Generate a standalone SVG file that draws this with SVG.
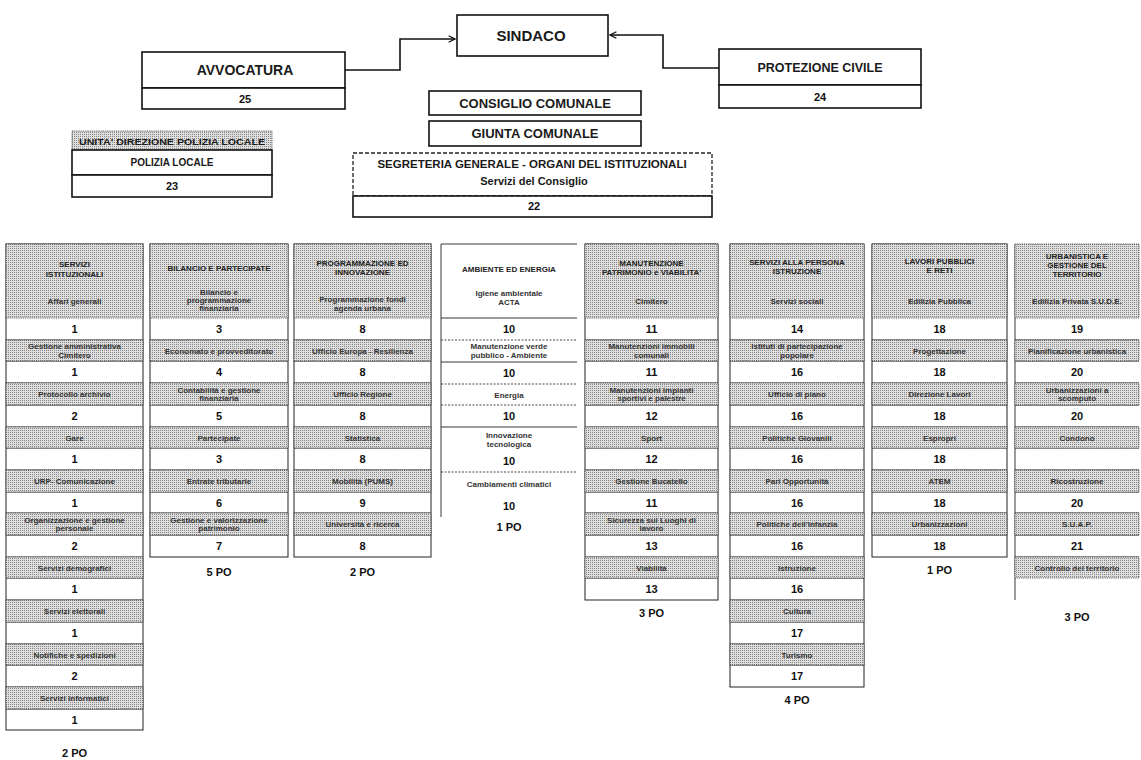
<svg xmlns="http://www.w3.org/2000/svg" width="1141" height="760" viewBox="0 0 1141 760">
<defs>
<pattern id="ht" width="2" height="2" patternUnits="userSpaceOnUse"><rect width="2" height="2" fill="#dedede"/><rect width="1" height="1" fill="#888"/></pattern>
<marker id="ah" viewBox="0 0 10 10" refX="9" refY="5" markerWidth="8" markerHeight="8" orient="auto" markerUnits="userSpaceOnUse"><path d="M1,1 L9,5 L1,9" fill="none" stroke="#111" stroke-width="1.6"/></marker>
<style>
text{font-family:"Liberation Sans",Arial,sans-serif;font-weight:bold;text-anchor:middle;fill:#1a1a1a}
.bx{fill:#fff;stroke:#111;stroke-width:1.6}
.bxd{fill:#fff;stroke:#222;stroke-width:1.3;stroke-dasharray:4 2}
.g{fill:url(#ht);stroke:#333;stroke-width:.8;stroke-dasharray:1.2 1}
.col{fill:#fff;stroke:#222;stroke-width:1}
.rl{fill:none;stroke:#222;stroke-width:.9}
.dl{fill:none;stroke:#333;stroke-width:.9;stroke-dasharray:2 1.5}
.it{font-size:8px;fill:#333}
.hd{font-size:8px;fill:#222}
.n{font-size:11px;fill:#111}
.po{font-size:11px;fill:#111}
.cn{fill:none;stroke:#111;stroke-width:1.6}
</style>
</defs>
<rect width="1141" height="760" fill="#fff"/>

<g id="connectors">
<path class="cn" d="M345,70 H400 V39 H455" marker-end="url(#ah)"/>
<path class="cn" d="M719,68 H663 V35 H610" marker-end="url(#ah)"/>
</g>

<g id="sindaco">
<rect class="bx" x="457" y="15" width="151" height="41" stroke-width="2"/>
<text x="531" y="41" font-size="15">SINDACO</text>
</g>
<g id="avvocatura">
<rect class="bx" x="142" y="52" width="203" height="36"/>
<rect class="bx" x="142" y="88" width="203" height="21" stroke-width="1.2"/>
<text x="245" y="75" font-size="14">AVVOCATURA</text>
<text class="n" x="245" y="103">25</text>
</g>
<g id="protezione-civile">
<rect class="bx" x="719" y="49" width="202" height="36"/>
<rect class="bx" x="719" y="85" width="202" height="23" stroke-width="1.2"/>
<text x="820" y="72" font-size="12.5">PROTEZIONE CIVILE</text>
<text class="n" x="820" y="101">24</text>
</g>
<g id="consiglio-comunale">
<rect class="bx" x="429" y="91" width="212" height="24"/>
<text x="535" y="108" font-size="13">CONSIGLIO COMUNALE</text>
</g>
<g id="giunta-comunale">
<rect class="bx" x="429" y="121" width="212" height="25"/>
<text x="535" y="138" font-size="13">GIUNTA COMUNALE</text>
</g>
<g id="polizia-locale">
<rect class="g" x="72" y="131" width="200" height="19" stroke-dasharray="none" stroke="#111" stroke-width="1.2"/>
<rect class="bx" x="72" y="150" width="200" height="25" stroke-width="1.2"/>
<rect class="bx" x="72" y="175" width="200" height="22" stroke-width="1.2"/>
<text x="172" y="144.5" font-size="9" textLength="186" lengthAdjust="spacingAndGlyphs">UNITA' DIREZIONE POLIZIA LOCALE</text>
<text x="172" y="166" font-size="10">POLIZIA LOCALE</text>
<text class="n" x="172" y="190">23</text>
</g>
<g id="segreteria-generale">
<rect class="bxd" x="353" y="153" width="359" height="43"/>
<rect class="bx" x="353" y="196" width="359" height="21" stroke-width="1.1"/>
<text x="532" y="168" font-size="11.5">SEGRETERIA GENERALE - ORGANI DEL ISTITUZIONALI</text>
<text x="534" y="185" font-size="11">Servizi del Consiglio</text>
<text class="n" x="534" y="210">22</text>
</g>

<g id="col-servizi-istituzionali">
<rect class="col" x="6" y="244" width="137" height="486"/>
<path class="rl" d="M6,340H143M6,361H143M6,383H143M6,405H143M6,427H143M6,448H143M6,470H143M6,492H143M6,513H143M6,535H143M6,557H143M6,578H143M6,600H143M6,622H143M6,644H143M6,665H143M6,687H143M6,709H143"/>
<rect class="g" x="6" y="244" width="137" height="74"/>
<rect class="g" x="6" y="340" width="137" height="21"/>
<rect class="g" x="6" y="383" width="137" height="22"/>
<rect class="g" x="6" y="427" width="137" height="21"/>
<rect class="g" x="6" y="470" width="137" height="22"/>
<rect class="g" x="6" y="513" width="137" height="22"/>
<rect class="g" x="6" y="557" width="137" height="21"/>
<rect class="g" x="6" y="600" width="137" height="22"/>
<rect class="g" x="6" y="644" width="137" height="21"/>
<rect class="g" x="6" y="687" width="137" height="22"/>
<text class="hd" x="74.5" y="267">SERVIZI</text>
<text class="hd" x="74.5" y="277">ISTITUZIONALI</text>
<text class="it" x="74.5" y="304">Affari generali</text>
<text class="n" x="74.5" y="333">1</text>
<text class="it" x="74.5" y="349">Gestione amministrativa</text>
<text class="it" x="74.5" y="357.5">Cimitero</text>
<text class="n" x="74.5" y="376">1</text>
<text class="it" x="74.5" y="397">Protocollo archivio</text>
<text class="n" x="74.5" y="420">2</text>
<text class="it" x="74.5" y="440.5">Gare</text>
<text class="n" x="74.5" y="463">1</text>
<text class="it" x="74.5" y="484">URP- Comunicazione</text>
<text class="n" x="74.5" y="506.5">1</text>
<text class="it" x="74.5" y="522.5">Organizzazione e gestione</text>
<text class="it" x="74.5" y="531">personale</text>
<text class="n" x="74.5" y="550">2</text>
<text class="it" x="74.5" y="570.5">Servizi demografici</text>
<text class="n" x="74.5" y="593">1</text>
<text class="it" x="74.5" y="614">Servizi elettorali</text>
<text class="n" x="74.5" y="637">1</text>
<text class="it" x="74.5" y="657.5">Notifiche e spedizioni</text>
<text class="n" x="74.5" y="680">2</text>
<text class="it" x="74.5" y="701">Servizi informatici</text>
<text class="n" x="74.5" y="723.5">1</text>
<text class="po" x="74.5" y="757">2 PO</text>
</g>

<g id="col-bilancio">
<rect class="col" x="150" y="244" width="138" height="313"/>
<path class="rl" d="M150,340H288M150,361H288M150,383H288M150,405H288M150,427H288M150,448H288M150,470H288M150,492H288M150,513H288M150,535H288"/>
<rect class="g" x="150" y="244" width="138" height="74"/>
<rect class="g" x="150" y="340" width="138" height="21"/>
<rect class="g" x="150" y="383" width="138" height="22"/>
<rect class="g" x="150" y="427" width="138" height="21"/>
<rect class="g" x="150" y="470" width="138" height="22"/>
<rect class="g" x="150" y="513" width="138" height="22"/>
<text class="hd" x="219" y="271">BILANCIO E PARTECIPATE</text>
<text class="it" x="219" y="295">Bilancio e</text>
<text class="it" x="219" y="303">programmazione</text>
<text class="it" x="219" y="311">finanziaria</text>
<text class="n" x="219" y="333">3</text>
<text class="it" x="219" y="353.5">Economato e provveditorato</text>
<text class="n" x="219" y="376">4</text>
<text class="it" x="219" y="392.5">Contabilità e gestione</text>
<text class="it" x="219" y="401">finanziaria</text>
<text class="n" x="219" y="420">5</text>
<text class="it" x="219" y="440.5">Partecipate</text>
<text class="n" x="219" y="463">3</text>
<text class="it" x="219" y="484">Entrate tributarie</text>
<text class="n" x="219" y="506.5">6</text>
<text class="it" x="219" y="522.5">Gestione e valorizzazione</text>
<text class="it" x="219" y="531">patrimonio</text>
<text class="n" x="219" y="550">7</text>
<text class="po" x="219" y="576">5 PO</text>
</g>

<g id="col-programmazione">
<rect class="col" x="294" y="244" width="137" height="313"/>
<path class="rl" d="M294,340H431M294,361H431M294,383H431M294,405H431M294,427H431M294,448H431M294,470H431M294,492H431M294,513H431M294,535H431"/>
<rect class="g" x="294" y="244" width="137" height="74"/>
<rect class="g" x="294" y="340" width="137" height="21"/>
<rect class="g" x="294" y="383" width="137" height="22"/>
<rect class="g" x="294" y="427" width="137" height="21"/>
<rect class="g" x="294" y="470" width="137" height="22"/>
<rect class="g" x="294" y="513" width="137" height="22"/>
<text class="hd" x="362.5" y="266">PROGRAMMAZIONE ED</text>
<text class="hd" x="362.5" y="275">INNOVAZIONE</text>
<text class="it" x="362.5" y="302">Programmazione fondi</text>
<text class="it" x="362.5" y="311">agenda urbana</text>
<text class="n" x="362.5" y="333">8</text>
<text class="it" x="362.5" y="353.5">Ufficio Europa - Resilienza</text>
<text class="n" x="362.5" y="376">8</text>
<text class="it" x="362.5" y="397">Ufficio Regione</text>
<text class="n" x="362.5" y="420">8</text>
<text class="it" x="362.5" y="440.5">Statistica</text>
<text class="n" x="362.5" y="463">8</text>
<text class="it" x="362.5" y="484">Mobilità (PUMS)</text>
<text class="n" x="362.5" y="506.5">9</text>
<text class="it" x="362.5" y="527">Università e ricerca</text>
<text class="n" x="362.5" y="550">8</text>
<text class="po" x="362.5" y="576">2 PO</text>
</g>

<g id="col-ambiente">
<path class="rl" d="M577,244H441V517"/>
<path class="rl" d="M441,318H577M441,362H577M441,427H577" stroke-width="1.2"/>
<path class="dl" d="M441,340H577M441,384H577M441,405H577M441,472H577"/>
<text class="hd" x="509" y="272">AMBIENTE ED ENERGIA</text>
<text class="it" x="509" y="296">Igiene ambientale</text>
<text class="it" x="509" y="305">ACTA</text>
<text class="n" x="509" y="333">10</text>
<text class="it" x="509" y="349">Manutenzione verde</text>
<text class="it" x="509" y="358">pubblico - Ambiente</text>
<text class="n" x="509" y="377">10</text>
<text class="it" x="509" y="398">Energia</text>
<text class="n" x="509" y="420">10</text>
<text class="it" x="509" y="438">Innovazione</text>
<text class="it" x="509" y="447">tecnologica</text>
<text class="n" x="509" y="465">10</text>
<text class="it" x="509" y="487">Cambiamenti climatici</text>
<text class="n" x="509" y="510">10</text>
<text class="po" x="509" y="531">1 PO</text>
</g>

<g id="col-manutenzione">
<rect class="col" x="585" y="244" width="133" height="356"/>
<path class="rl" d="M585,340H718M585,361H718M585,383H718M585,405H718M585,427H718M585,448H718M585,470H718M585,492H718M585,513H718M585,535H718M585,557H718M585,578H718"/>
<rect class="g" x="585" y="244" width="133" height="74"/>
<rect class="g" x="585" y="340" width="133" height="21"/>
<rect class="g" x="585" y="383" width="133" height="22"/>
<rect class="g" x="585" y="427" width="133" height="21"/>
<rect class="g" x="585" y="470" width="133" height="22"/>
<rect class="g" x="585" y="513" width="133" height="22"/>
<rect class="g" x="585" y="557" width="133" height="21"/>
<text class="hd" x="651.5" y="266">MANUTENZIONE</text>
<text class="hd" x="651.5" y="275">PATRIMONIO e VIABILITA'</text>
<text class="it" x="651.5" y="304">Cimitero</text>
<text class="n" x="651.5" y="333">11</text>
<text class="it" x="651.5" y="349">Manutenzioni immobili</text>
<text class="it" x="651.5" y="357.5">comunali</text>
<text class="n" x="651.5" y="376">11</text>
<text class="it" x="651.5" y="392.5">Manutenzioni impianti</text>
<text class="it" x="651.5" y="401">sportivi e palestre</text>
<text class="n" x="651.5" y="420">12</text>
<text class="it" x="651.5" y="440.5">Sport</text>
<text class="n" x="651.5" y="463">12</text>
<text class="it" x="651.5" y="484">Gestione Bucatello</text>
<text class="n" x="651.5" y="506.5">11</text>
<text class="it" x="651.5" y="522.5">Sicurezza sui Luoghi di</text>
<text class="it" x="651.5" y="531">lavoro</text>
<text class="n" x="651.5" y="550">13</text>
<text class="it" x="651.5" y="570.5">Viabilità</text>
<text class="n" x="651.5" y="593">13</text>
<text class="po" x="651.5" y="617">3 PO</text>
</g>

<g id="col-servizi-persona">
<rect class="col" x="730" y="244" width="134" height="443"/>
<path class="rl" d="M730,340H864M730,361H864M730,383H864M730,405H864M730,427H864M730,448H864M730,470H864M730,492H864M730,513H864M730,535H864M730,557H864M730,578H864M730,600H864M730,622H864M730,644H864M730,665H864"/>
<rect class="g" x="730" y="244" width="134" height="74"/>
<rect class="g" x="730" y="340" width="134" height="21"/>
<rect class="g" x="730" y="383" width="134" height="22"/>
<rect class="g" x="730" y="427" width="134" height="21"/>
<rect class="g" x="730" y="470" width="134" height="22"/>
<rect class="g" x="730" y="513" width="134" height="22"/>
<rect class="g" x="730" y="557" width="134" height="21"/>
<rect class="g" x="730" y="600" width="134" height="22"/>
<rect class="g" x="730" y="644" width="134" height="21"/>
<text class="hd" x="797" y="265">SERVIZI ALLA PERSONA</text>
<text class="hd" x="797" y="274">ISTRUZIONE</text>
<text class="it" x="797" y="304">Servizi sociali</text>
<text class="n" x="797" y="333">14</text>
<text class="it" x="797" y="349">Istituti di partecipazione</text>
<text class="it" x="797" y="357.5">popolare</text>
<text class="n" x="797" y="376">16</text>
<text class="it" x="797" y="397">Ufficio di piano</text>
<text class="n" x="797" y="420">16</text>
<text class="it" x="797" y="440.5">Politiche Giovanili</text>
<text class="n" x="797" y="463">16</text>
<text class="it" x="797" y="484">Pari Opportunità</text>
<text class="n" x="797" y="506.5">16</text>
<text class="it" x="797" y="527">Politiche dell'Infanzia</text>
<text class="n" x="797" y="550">16</text>
<text class="it" x="797" y="570.5">Istruzione</text>
<text class="n" x="797" y="593">16</text>
<text class="it" x="797" y="614">Cultura</text>
<text class="n" x="797" y="637">17</text>
<text class="it" x="797" y="657.5">Turismo</text>
<text class="n" x="797" y="680">17</text>
<text class="po" x="797" y="704">4 PO</text>
</g>

<g id="col-lavori-pubblici">
<rect class="col" x="872" y="244" width="135" height="313"/>
<path class="rl" d="M872,340H1007M872,361H1007M872,383H1007M872,405H1007M872,427H1007M872,448H1007M872,470H1007M872,492H1007M872,513H1007M872,535H1007"/>
<rect class="g" x="872" y="244" width="135" height="74"/>
<rect class="g" x="872" y="340" width="135" height="21"/>
<rect class="g" x="872" y="383" width="135" height="22"/>
<rect class="g" x="872" y="427" width="135" height="21"/>
<rect class="g" x="872" y="470" width="135" height="22"/>
<rect class="g" x="872" y="513" width="135" height="22"/>
<text class="hd" x="939.5" y="264">LAVORI PUBBLICI</text>
<text class="hd" x="939.5" y="273">E RETI</text>
<text class="it" x="939.5" y="304">Edilizia Pubblica</text>
<text class="n" x="939.5" y="333">18</text>
<text class="it" x="939.5" y="353.5">Progettazione</text>
<text class="n" x="939.5" y="376">18</text>
<text class="it" x="939.5" y="397">Direzione Lavori</text>
<text class="n" x="939.5" y="420">18</text>
<text class="it" x="939.5" y="440.5">Espropri</text>
<text class="n" x="939.5" y="463">18</text>
<text class="it" x="939.5" y="484">ATEM</text>
<text class="n" x="939.5" y="506.5">18</text>
<text class="it" x="939.5" y="527">Urbanizzazioni</text>
<text class="n" x="939.5" y="550">18</text>
<text class="po" x="939.5" y="574">1 PO</text>
</g>

<g id="col-urbanistica">
<path class="rl" d="M1015,244V600"/>
<path class="rl" d="M1015,340H1139M1015,361H1139M1015,383H1139M1015,405H1139M1015,427H1139M1015,448H1139M1015,470H1139M1015,492H1139M1015,513H1139M1015,535H1139M1015,557H1139"/>
<rect class="g" x="1015" y="244" width="124" height="74"/>
<rect class="g" x="1015" y="340" width="124" height="21"/>
<rect class="g" x="1015" y="383" width="124" height="22"/>
<rect class="g" x="1015" y="427" width="124" height="21"/>
<rect class="g" x="1015" y="470" width="124" height="22"/>
<rect class="g" x="1015" y="513" width="124" height="22"/>
<rect class="g" x="1015" y="557" width="124" height="21"/>
<text class="hd" x="1077" y="259">URBANISTICA E</text>
<text class="hd" x="1077" y="268">GESTIONE DEL</text>
<text class="hd" x="1077" y="277">TERRITORIO</text>
<text class="it" x="1077" y="304">Edilizia Privata S.U.D.E.</text>
<text class="n" x="1077" y="333">19</text>
<text class="it" x="1077" y="353.5">Pianificazione urbanistica</text>
<text class="n" x="1077" y="376">20</text>
<text class="it" x="1077" y="392.5">Urbanizzazioni a</text>
<text class="it" x="1077" y="401">scomputo</text>
<text class="n" x="1077" y="420">20</text>
<text class="it" x="1077" y="440.5">Condono</text>
<text class="it" x="1077" y="484">Ricostruzione</text>
<text class="n" x="1077" y="506.5">20</text>
<text class="it" x="1077" y="527">S.U.A.P.</text>
<text class="n" x="1077" y="550">21</text>
<text class="it" x="1077" y="570.5">Controllo del territorio</text>
<text class="po" x="1077" y="621">3 PO</text>
</g>
</svg>
